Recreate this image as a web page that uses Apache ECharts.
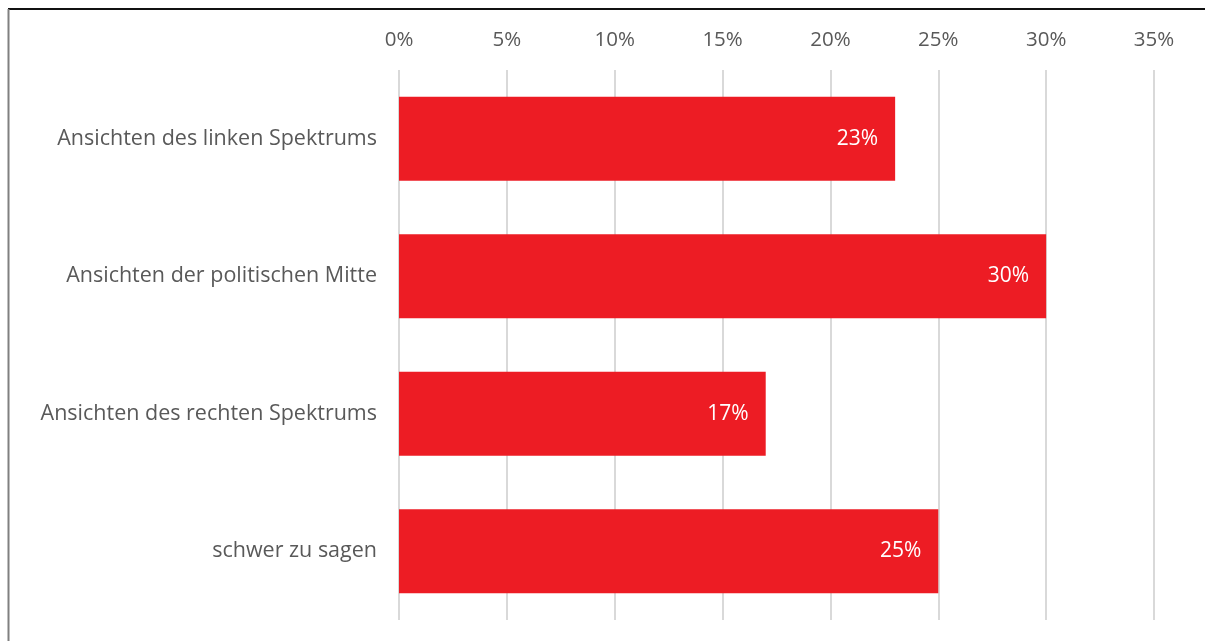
<!DOCTYPE html>
<html>
<head>
<meta charset="utf-8">
<script src="https://cdn.jsdelivr.net/npm/echarts@6/dist/echarts.min.js"></script>
<style>
  html, body { margin: 0; padding: 0; background: #fff; }
  #chart { width: 1205px; height: 641px; }
</style>
</head>
<body>
<div id="chart"></div>
<script>
const categories = [
  'Ansichten des linken Spektrums',
  'Ansichten der politischen Mitte',
  'Ansichten des rechten Spektrums',
  'schwer zu sagen'
]
const shares = [23, 30, 17, 25] // percent

const chart = echarts.init(document.getElementById('chart'))
const font = '"Open Sans", "Noto Sans", sans-serif'

chart.setOption({
  animation: false,
  backgroundColor: '#fff',
  textStyle: { fontFamily: font },
  grid: { left: 399, right: 51, top: 70, bottom: 21, containLabel: false },
  graphic: [
    // frame lines of the cropped slide
    { type: 'line', shape: { x1: 8, y1: 9, x2: 1205, y2: 9 }, style: { stroke: '#111', lineWidth: 2 } },
    { type: 'line', shape: { x1: 8.5, y1: 9, x2: 8.5, y2: 641 }, style: { stroke: '#808080', lineWidth: 2 } }
  ],
  xAxis: {
    type: 'value',
    position: 'top',
    min: 0,
    max: 35,
    interval: 5,
    axisLine: { show: false },
    axisTick: { show: false },
    axisLabel: {
      margin: 19,
      color: '#595959',
      fontSize: 20.5,
      fontFamily: font,
      formatter: '{value}%'
    },
    splitLine: { show: true, lineStyle: { color: '#d9d9d9', width: 2 } }
  },
  yAxis: {
    type: 'category',
    data: categories,
    inverse: true,
    axisLine: { show: false },
    axisTick: { show: false },
    axisLabel: {
      margin: 22,
      color: '#595959',
      fontSize: 21.5,
      fontFamily: font
    }
  },
  series: [
    {
      type: 'bar',
      data: shares,
      barWidth: 84,
      itemStyle: { color: '#ED1C24' },
      label: {
        show: true,
        position: 'insideRight',
        distance: 17,
        color: '#fff',
        fontSize: 21,
        fontFamily: font,
        formatter: '{c}%'
      }
    }
  ]
})
</script>
</body>
</html>
